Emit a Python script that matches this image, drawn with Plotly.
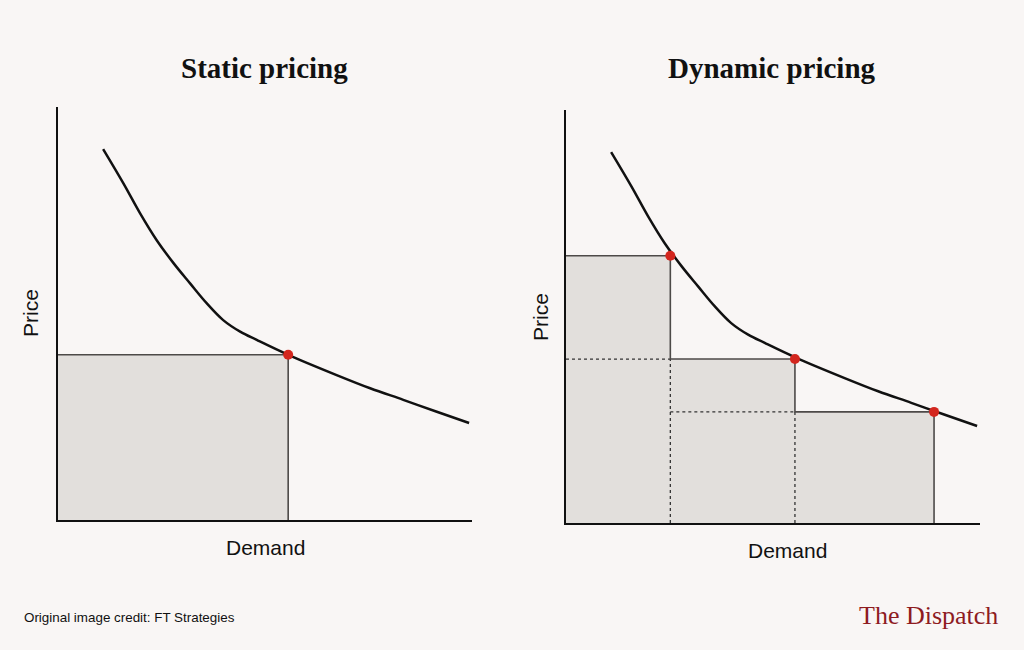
import plotly.graph_objects as go

# demand curve (same shape in both panels), demand 0-100, price 0-100
curve_x = [10.9, 15.8, 19.8, 23.8, 27.9, 31.9, 35.9, 39.9, 44.0, 48.0, 55.6, 67.3, 75.4, 83.4, 91.5, 99.3]
curve_y = [89.8, 81.5, 74.3, 67.8, 62.2, 57.3, 52.5, 48.4, 45.6, 43.6, 40.0, 35.1, 31.9, 29.1, 26.2, 23.5]

# static pricing: one price point
static_q = [55.6]
static_p = [40.0]

# dynamic pricing: three price points
dyn_q = [25.2, 55.3, 88.9]
dyn_p = [64.7, 39.7, 26.9]

titles = ["Static pricing", "Dynamic pricing"]
x_label = "Demand"
y_label = "Price"
credit = "Original image credit: FT Strategies"
brand = "The Dispatch"

BG = "#f9f6f5"
FILL = "#e2dfdc"
EDGE = "#4d4a48"
RED = "#d3261e"

fig = go.Figure()


def staircase(qs, ps):
    """outline of the revenue area: top-left corner, then steps down"""
    xs, ys = [0], [ps[0]]
    for i, (q, p) in enumerate(zip(qs, ps)):
        xs += [q]
        ys += [p]
        nxt = ps[i + 1] if i + 1 < len(ps) else 0
        xs += [q]
        ys += [nxt]
    return xs, ys


def add_panel(xa, ya, qs, ps):
    sx, sy = staircase(qs, ps)
    # grey fill
    fig.add_trace(go.Scatter(x=sx + [0, 0], y=sy + [0, ps[0]], xaxis=xa, yaxis=ya,
                             mode="lines", fill="toself", fillcolor=FILL,
                             line=dict(width=0), hoverinfo="skip"))
    # dotted inner lines
    for i in range(1, len(qs)):
        fig.add_trace(go.Scatter(x=[0 if i == 1 else qs[i - 2], qs[i - 1]], y=[ps[i], ps[i]],
                                 xaxis=xa, yaxis=ya, mode="lines",
                                 line=dict(color="#333", width=1.3, dash="dot"), hoverinfo="skip"))
        fig.add_trace(go.Scatter(x=[qs[i - 1], qs[i - 1]], y=[0, ps[i]],
                                 xaxis=xa, yaxis=ya, mode="lines",
                                 line=dict(color="#333", width=1.3, dash="dot"), hoverinfo="skip"))
    # solid step outline
    fig.add_trace(go.Scatter(x=sx, y=sy, xaxis=xa, yaxis=ya, mode="lines",
                             line=dict(color=EDGE, width=1.6), hoverinfo="skip"))
    # demand curve
    fig.add_trace(go.Scatter(x=curve_x, y=curve_y, xaxis=xa, yaxis=ya, mode="lines",
                             line=dict(color="#111", width=2.5, shape="spline", smoothing=1.0),
                             hoverinfo="skip"))
    # price points
    fig.add_trace(go.Scatter(x=qs, y=ps, xaxis=xa, yaxis=ya, mode="markers",
                             marker=dict(color=RED, size=10), hoverinfo="skip"))


add_panel("x", "y", static_q, static_p)
add_panel("x2", "y2", dyn_q, dyn_p)

ax = dict(range=[0, 100], showgrid=False, zeroline=False, showticklabels=False, ticks="",
          showline=True, linecolor="#111", linewidth=2, fixedrange=True)

fig.update_layout(
    width=1024, height=650,
    margin=dict(l=0, r=0, t=0, b=0),
    paper_bgcolor=BG, plot_bgcolor=BG,
    showlegend=False,
    xaxis=dict(ax, domain=[58 / 1024, 472 / 1024]),
    yaxis=dict(ax, domain=[130 / 650, 543 / 650]),
    xaxis2=dict(ax, domain=[566 / 1024, 980 / 1024], anchor="y2"),
    yaxis2=dict(ax, domain=[127 / 650, 540 / 650], anchor="x2"),
)

txt = dict(family="Liberation Sans, Arial, sans-serif", size=21, color="#111")
ann = [
    dict(x=264 / 1024, y=1 - 68 / 650, text="<b>%s</b>" % titles[0],
         font=dict(family="Liberation Serif, serif", size=29, color="#111")),
    dict(x=772 / 1024, y=1 - 68 / 650, text="<b>%s</b>" % titles[1],
         font=dict(family="Liberation Serif, serif", size=29, color="#111")),
    dict(x=265 / 1024, y=1 - 547 / 650, text=x_label, font=txt),
    dict(x=787 / 1024, y=1 - 550 / 650, text=x_label, font=txt),
    dict(x=31 / 1024, y=1 - 313 / 650, text=y_label, font=txt, textangle=-90),
    dict(x=541 / 1024, y=1 - 317 / 650, text=y_label, font=txt, textangle=-90),
    dict(x=22 / 1024, y=1 - 617 / 650, text=credit, xanchor="left",
         font=dict(family="Liberation Sans, Arial, sans-serif", size=13.4, color="#111")),
    dict(x=1000 / 1024, y=1 - 615 / 650, text=brand, xanchor="right",
         font=dict(family="Liberation Serif, serif", size=26, color="#8e1b1f")),
]
for a in ann:
    a.setdefault("xanchor", "center")
    fig.add_annotation(xref="paper", yref="paper", showarrow=False, yanchor="middle", **a)

# the page has a default 8px body margin; drop it so the figure fills the window
fig.write_html("out.html", config={"displayModeBar": False},
               post_script="document.body.style.margin='0';document.body.style.background='%s';" % BG)
